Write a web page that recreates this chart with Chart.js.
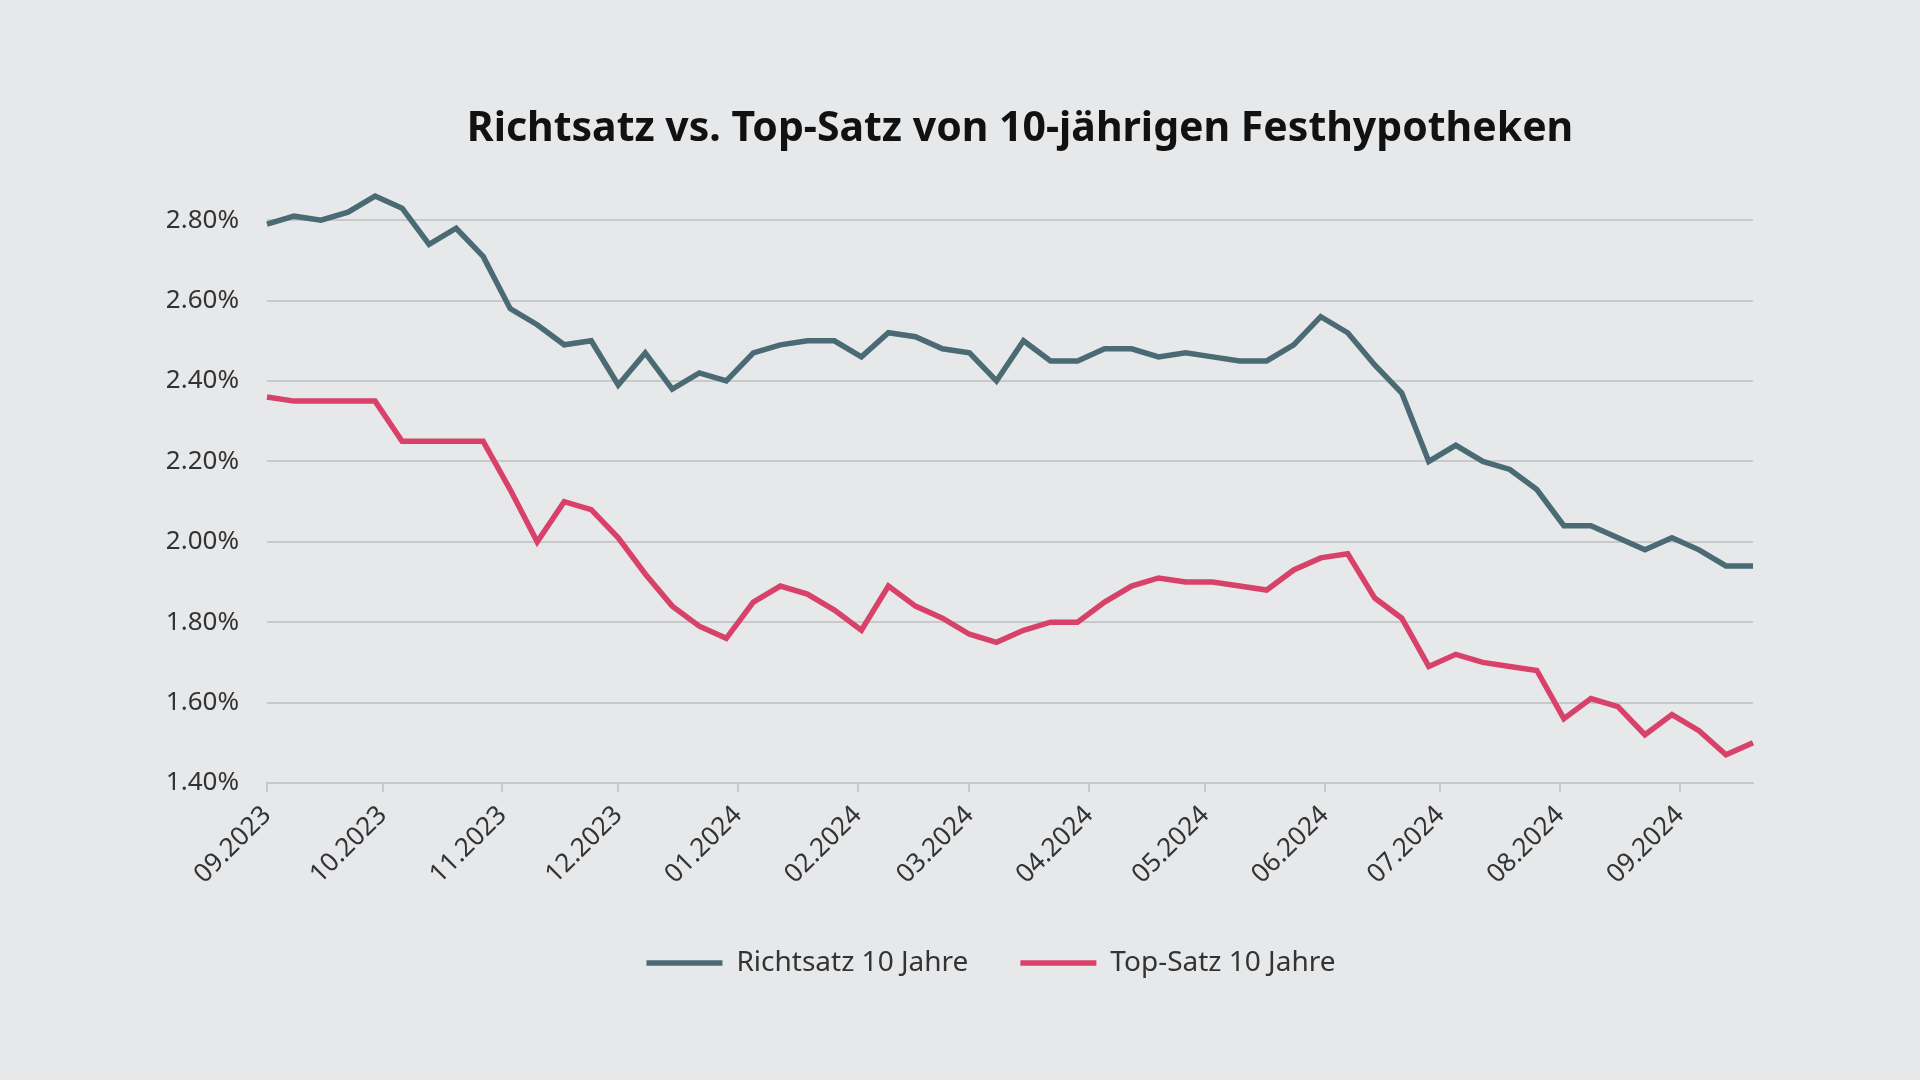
<!DOCTYPE html>
<html>
<head>
<meta charset="utf-8">
<script src="https://cdn.jsdelivr.net/npm/chart.js@4.4.1/dist/chart.umd.min.js"></script>
<style>
  html, body { margin: 0; padding: 0; background: #e7e8ea; }
  body { width: 1920px; height: 1080px; overflow: hidden; position: relative; }
  #wrap { position: absolute; left: 100px; top: 0; width: 1820px; height: 1080px; }
</style>
</head>
<body>
<div id="wrap"><canvas id="hypo"></canvas></div>
<script>
// wöchentliche Werte ab 01.09.2023
const richtsatz = [2.79, 2.81, 2.80, 2.82, 2.86, 2.83, 2.74, 2.78, 2.71, 2.58,
  2.54, 2.49, 2.50, 2.39, 2.47, 2.38, 2.42, 2.40, 2.47, 2.49,
  2.50, 2.50, 2.46, 2.52, 2.51, 2.48, 2.47, 2.40, 2.50, 2.45,
  2.45, 2.48, 2.48, 2.46, 2.47, 2.46, 2.45, 2.45, 2.49, 2.56,
  2.52, 2.44, 2.37, 2.20, 2.24, 2.20, 2.18, 2.13, 2.04, 2.04,
  2.01, 1.98, 2.01, 1.98, 1.94, 1.94];
const topSatz = [2.36, 2.35, 2.35, 2.35, 2.35, 2.25, 2.25, 2.25, 2.25, 2.13,
  2.00, 2.10, 2.08, 2.01, 1.92, 1.84, 1.79, 1.76, 1.85, 1.89,
  1.87, 1.83, 1.78, 1.89, 1.84, 1.81, 1.77, 1.75, 1.78, 1.80,
  1.80, 1.85, 1.89, 1.91, 1.90, 1.90, 1.89, 1.88, 1.93, 1.96,
  1.97, 1.86, 1.81, 1.69, 1.72, 1.70, 1.69, 1.68, 1.56, 1.61,
  1.59, 1.52, 1.57, 1.53, 1.47, 1.50];
const monthLabels = ['09.2023', '10.2023', '11.2023', '12.2023', '01.2024', '02.2024',
  '03.2024', '04.2024', '05.2024', '06.2024', '07.2024', '08.2024', '09.2024'];
const yTicks = [1.4, 1.6, 1.8, 2.0, 2.2, 2.4, 2.6, 2.8];

const start = Date.UTC(2023, 8, 1);
const DAY = 86400000;
// Tage seit Start für jede Woche und jeden Monatsanfang
const toPoints = arr => arr.map((v, i) => ({ x: i * 7, y: v }));
const monthDays = monthLabels.map(l => {
  const [m, y] = l.split('.');
  return (Date.UTC(+y, +m - 1, 1) - start) / DAY;
});

const FONT = '"Noto Sans", sans-serif';
const gridColor = '#c8c9cb';
const textColor = '#333';

// Titel und Legende etwas nach rechts schieben (nicht auf Canvas-Mitte)
const shiftBlocks = {
  id: 'shiftBlocks',
  afterLayout(chart) {
    const t = chart.titleBlock, l = chart.legend;
    if (t) { t.left += 62; t.right += 62; }
    if (l) { l.left += 33; l.right += 33; }
  }
};

new Chart(document.getElementById('hypo'), {
  type: 'line',
  data: {
    datasets: [{
      label: 'Richtsatz 10 Jahre',
      data: toPoints(richtsatz),
      borderColor: '#4b6b74',
      backgroundColor: '#4b6b74',
      borderWidth: 5.5,
      pointRadius: 0,
      tension: 0,
      clip: false
    }, {
      label: 'Top-Satz 10 Jahre',
      data: toPoints(topSatz),
      borderColor: '#d8426a',
      backgroundColor: '#d8426a',
      borderWidth: 5.5,
      pointRadius: 0,
      tension: 0,
      clip: false
    }]
  },
  plugins: [shiftBlocks],
  options: {
    responsive: true,
    maintainAspectRatio: false,
    devicePixelRatio: 1,
    animation: false,
    layout: { padding: { left: 63, right: 167, top: 0, bottom: 93 } },
    plugins: {
      title: {
        display: true,
        text: 'Richtsatz vs. Top-Satz von 10-jährigen Festhypotheken',
        color: '#111',
        font: { family: FONT, size: 41, weight: 'bold' },
        padding: { top: 105, bottom: 66 }
      },
      legend: {
        position: 'bottom',
        labels: {
          usePointStyle: true,
          pointStyle: 'line',
          pointStyleWidth: 76,
          padding: 52,
          color: textColor,
          font: { family: FONT, size: 28 }
        }
      },
      tooltip: { enabled: false }
    },
    scales: {
      x: {
        type: 'linear',
        min: 0,
        max: (richtsatz.length - 1) * 7,
        afterBuildTicks: s => { s.ticks = monthDays.map(v => ({ value: v })); },
        afterFit: s => { s.height = 114; },
        ticks: {
          autoSkip: false,
          minRotation: 45,
          maxRotation: 45,
          padding: 8,
          color: textColor,
          font: { family: FONT, size: 26 },
          callback: (v, i) => monthLabels[i]
        },
        grid: { drawOnChartArea: false, drawTicks: true, tickLength: 9, color: gridColor, lineWidth: 2 },
        border: { display: true, color: gridColor, width: 2 }
      },
      y: {
        min: 1.4,
        max: 2.8,
        afterBuildTicks: s => { s.ticks = yTicks.map(v => ({ value: v })); },
        afterFit: s => { s.width = 104; },
        ticks: {
          padding: 28,
          color: textColor,
          font: { family: FONT, size: 26 },
          callback: v => v.toFixed(2) + '%'
        },
        grid: { drawTicks: false, color: gridColor, lineWidth: 2 },
        border: { display: false }
      }
    }
  }
});
</script>
</body>
</html>
